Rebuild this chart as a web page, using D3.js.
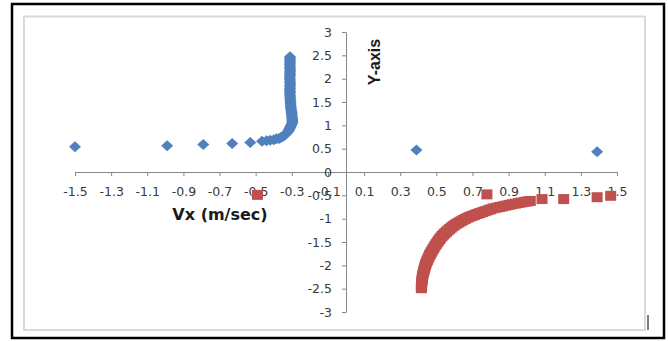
<!DOCTYPE html>
<html>
<head>
<meta charset="utf-8">
<script src="https://cdn.jsdelivr.net/npm/d3@7"></script>
<style>
  html, body { margin: 0; padding: 0; background: #fff; }
  svg { display: block; }
</style>
</head>
<body>
<svg id="chart" width="668" height="341"></svg>
<script>
// Tick values and labels
const xTicks = [-1.5, -1.3, -1.1, -0.9, -0.7, -0.5, -0.3, -0.1, 0.1, 0.3, 0.5, 0.7, 0.9, 1.1, 1.3, 1.5];
const xTickLabels = ["-1.5", "-1.3", "-1.1", "-0.9", "-0.7", "-0.5", "-0.3", "-0.1", "0.1", "0.3", "0.5", "0.7", "0.9", "1.1", "1.3", "1.5"];
const yTicks = [3, 2.5, 2, 1.5, 1, 0.5, 0, -0.5, -1, -1.5, -2, -2.5, -3];
const yTickLabels = ["3", "2.5", "2", "1.5", "1", "0.5", "0", "-0.5", "-1", "-1.5", "-2", "-2.5", "-3"];

// Series 1 (blue diamonds): Vx, Vy
const blueVx = [-1.5, -0.99, -0.79, -0.63, -0.53, -0.465, -0.44, -0.42, -0.40, -0.385, -0.37, -0.36, -0.35, -0.345, -0.34, -0.335,
  -0.33, -0.325, -0.32, -0.317, -0.315, -0.312, -0.31, -0.307, -0.305, -0.302, -0.30, -0.298, -0.297, -0.297, -0.297, -0.297,
  -0.298, -0.299, -0.30, -0.30, -0.30, -0.301, -0.302, -0.303, -0.304, -0.305, -0.306, -0.306, -0.307, -0.307, -0.308, -0.308,
  -0.309, -0.309, -0.31, -0.31, -0.31, -0.31, -0.311, -0.31, -0.31, -0.31, -0.309, -0.31, -0.31, -0.31, -0.311, -0.311,
  -0.31, -0.31, -0.31, -0.31, -0.309, -0.31, -0.31, -0.31, -0.311, -0.31, -0.31, -0.31, -0.31, -0.31, -0.31,
  0.39, 1.39];
const blueVy = [0.54, 0.56, 0.59, 0.61, 0.63, 0.66, 0.67, 0.68, 0.69, 0.71, 0.72, 0.74, 0.76, 0.775, 0.79, 0.81,
  0.83, 0.85, 0.87, 0.89, 0.91, 0.93, 0.95, 0.97, 0.99, 1.01, 1.03, 1.05, 1.07, 1.09, 1.11, 1.13,
  1.15, 1.175, 1.20, 1.225, 1.25, 1.275, 1.30, 1.325, 1.35, 1.375, 1.40, 1.43, 1.46, 1.49, 1.52, 1.55,
  1.58, 1.61, 1.64, 1.67, 1.70, 1.73, 1.76, 1.79, 1.82, 1.85, 1.88, 1.91, 1.94, 1.97, 2.00, 2.03,
  2.06, 2.09, 2.12, 2.15, 2.18, 2.21, 2.24, 2.27, 2.30, 2.33, 2.36, 2.39, 2.42, 2.445, 2.47,
  0.47, 0.435];

// Series 2 (red squares): Vx, Vy
const redVx = [-0.49, 0.78, 1.085, 1.205, 1.39, 1.465,
  0.417, 0.4175, 0.418, 0.419, 0.42, 0.421, 0.422, 0.4235, 0.425, 0.4275, 0.43, 0.4325, 0.435, 0.4375,
  0.44, 0.4435, 0.447, 0.451, 0.455, 0.459, 0.463, 0.4675, 0.472, 0.477, 0.482, 0.4875, 0.493, 0.499,
  0.505, 0.5115, 0.518, 0.525, 0.532, 0.54, 0.548, 0.5565, 0.565, 0.574, 0.583, 0.593, 0.603, 0.614,
  0.625, 0.6365, 0.648, 0.66, 0.672, 0.685, 0.698, 0.7115, 0.725, 0.74, 0.755, 0.77, 0.785, 0.80,
  0.815, 0.8325, 0.85, 0.8675, 0.885, 0.9025, 0.92, 0.9375, 0.955, 0.9725, 0.99, 1.005, 1.02];
const redVy = [-0.49, -0.48, -0.58, -0.58, -0.54, -0.51,
  -2.49, -2.455, -2.42, -2.385, -2.35, -2.315, -2.28, -2.245, -2.21, -2.17, -2.13, -2.095, -2.06, -2.025,
  -1.99, -1.955, -1.92, -1.885, -1.85, -1.815, -1.78, -1.75, -1.72, -1.685, -1.65, -1.615, -1.58, -1.545,
  -1.51, -1.475, -1.44, -1.405, -1.37, -1.34, -1.31, -1.28, -1.25, -1.22, -1.19, -1.16, -1.13, -1.105,
  -1.08, -1.055, -1.03, -1.005, -0.98, -0.96, -0.94, -0.92, -0.90, -0.88, -0.86, -0.84, -0.82, -0.80,
  -0.78, -0.765, -0.75, -0.735, -0.72, -0.705, -0.69, -0.6775, -0.665, -0.6525, -0.64, -0.63, -0.62];

const xTitle = "Vx (m/sec)";
const yTitle = "Y-axis";

const svg = d3.select("#chart");

// Frame and chart area
svg.append("rect")
  .attr("x", 12).attr("y", 4).attr("width", 652).attr("height", 334)
  .attr("fill", "none").attr("stroke", "#000").attr("stroke-width", 2.5);
svg.append("rect")
  .attr("x", 24).attr("y", 16.5).attr("width", 621).attr("height", 313.5)
  .attr("fill", "#fff").attr("stroke", "#d9d9d9").attr("stroke-width", 2);
svg.append("line")
  .attr("x1", 648).attr("x2", 648).attr("y1", 315).attr("y2", 330)
  .attr("stroke", "#555").attr("stroke-width", 1.5);

const x = d3.scaleLinear().domain([-1.5, 1.5]).range([75, 617]);
const y = d3.scaleLinear().domain([-3, 3]).range([312, 32]);

const axisColor = "#868686";
const labelColor = "#3a3a3a";
const tickFont = "DejaVu Sans, Verdana, sans-serif";

function styleAxis(g) {
  g.select(".domain").attr("stroke", axisColor).attr("stroke-width", 1);
  g.selectAll(".tick line").attr("stroke", axisColor);
  g.selectAll(".tick text").attr("fill", labelColor).attr("font-family", tickFont).attr("font-size", 12.5);
}

// Horizontal axis through y = 0
const gx = svg.append("g")
  .attr("transform", `translate(0,${y(0)})`)
  .call(d3.axisBottom(x)
    .tickValues(xTicks)
    .tickFormat((d, i) => xTickLabels[i])
    .tickSize(4)
    .tickSizeOuter(0)
    .tickPadding(11));
styleAxis(gx);

// Vertical axis through x = 0
const gy = svg.append("g")
  .attr("transform", `translate(${x(0)},0)`)
  .call(d3.axisLeft(y)
    .tickValues(yTicks)
    .tickFormat((d, i) => yTickLabels[i])
    .tickSize(4)
    .tickSizeOuter(0)
    .tickPadding(10));
styleAxis(gy);

// Axis titles
svg.append("text")
  .attr("x", 220).attr("y", 220)
  .attr("text-anchor", "middle")
  .attr("font-family", "DejaVu Sans, Verdana, sans-serif")
  .attr("font-weight", "bold").attr("font-size", 16)
  .attr("fill", "#1a1a1a")
  .text(xTitle);

svg.append("text")
  .attr("transform", "translate(380,62) rotate(-90)")
  .attr("text-anchor", "middle")
  .attr("font-family", "Liberation Sans, Arial, sans-serif")
  .attr("font-weight", "bold").attr("font-size", 16)
  .attr("fill", "#1a1a1a")
  .text(yTitle);

// Series markers
const blue = blueVx.map((v, i) => ({ vx: v, vy: blueVy[i] }));
const red = redVx.map((v, i) => ({ vx: v, vy: redVy[i] }));

const diamond = "M0,-5.5L6,0L0,5.5L-6,0Z";
svg.append("g").selectAll("path")
  .data(blue).join("path")
  .attr("d", diamond)
  .attr("transform", d => `translate(${x(d.vx)},${y(d.vy)})`)
  .attr("fill", "#4F81BD");

svg.append("g").selectAll("rect")
  .data(red).join("rect")
  .attr("x", d => x(d.vx) - 5.5)
  .attr("y", d => y(d.vy) - 5)
  .attr("width", 11).attr("height", 10)
  .attr("fill", "#C0504D");
</script>
</body>
</html>
